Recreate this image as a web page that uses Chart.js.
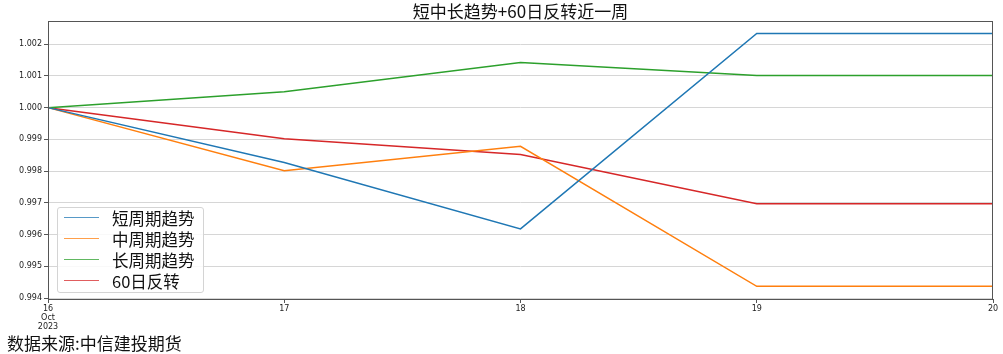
<!DOCTYPE html>
<html>
<head>
<meta charset="utf-8">
<script src="https://cdn.jsdelivr.net/npm/chart.js@4.4.0/dist/chart.umd.min.js"></script>
<style>
  html, body { margin: 0; padding: 0; background: #fff; }
  #wrap { position: relative; width: 1003px; height: 354px; }
  #title {
    position: absolute; left: 48px; width: 945px; top: 0px; height: 22px; line-height: 22px;
    text-align: center; font-family: "Noto Sans CJK SC", sans-serif; font-size: 17px; color: #111;
  }
  #legend {
    position: absolute; left: 57px; top: 207px; width: 145px; height: 84px;
    border: 1px solid #d4d4d4; border-radius: 3px; background: rgba(255,255,255,0.85);
    font-family: "Noto Sans CJK SC", sans-serif; font-size: 16.5px; color: #111;
  }
  .item { position: absolute; left: 0; height: 21px; line-height: 21px; white-space: nowrap; }
  .item span.sw { position: absolute; left: 6px; top: 9px; width: 35px; height: 0; border-top: 1.5px solid; opacity: 0.75; }
  .item span.tx { position: absolute; left: 54px; top: 0; }
  #source {
    position: absolute; left: 7px; top: 330px;
    font-family: "Noto Sans CJK SC", sans-serif; font-size: 17px; color: #111; white-space: nowrap;
  }
</style>
</head>
<body>
<div id="wrap">
  <canvas id="chart" width="1003" height="354"></canvas>
  <div id="title">短中长趋势+60日反转近一周</div>
  <div id="legend"></div>
  <div id="source">数据来源:中信建投期货</div>
</div>
<script>
const days = ['16', '17', '18', '19', '20']
const firstTickLines = ['16', 'Oct', '2023']
const yTicks = [0.994, 0.995, 0.996, 0.997, 0.998, 0.999, 1.000, 1.001, 1.002]

const seriesNames = ['短周期趋势', '中周期趋势', '长周期趋势', '60日反转']
const seriesColors = ['#1f77b4', '#ff7f0e', '#2ca02c', '#d62728']

const shortTrend = [1.0000, 0.99827, 0.99618, 1.002335, 1.002335]
const midTrend = [1.0000, 0.99801, 0.99878, 0.99437, 0.99437]
const longTrend = [1.0000, 1.00050, 1.00142, 1.00101, 1.00101]
const reversal60 = [1.0000, 0.99902, 0.99852, 0.99697, 0.99697]

const allSeries = [shortTrend, midTrend, longTrend, reversal60]

// matplotlib-like frame on all four sides
const framePlugin = {
  id: 'frame',
  afterDatasetsDraw(chart) {
    const { ctx, chartArea } = chart
    ctx.save()
    ctx.strokeStyle = '#555'
    ctx.lineWidth = 1
    ctx.strokeRect(chartArea.left + 0.5, chartArea.top + 0.5,
      chartArea.right - chartArea.left - 1, chartArea.bottom - chartArea.top)
    ctx.restore()
  }
}

const ctx = document.getElementById('chart').getContext('2d')
const chart = new Chart(ctx, {
  type: 'line',
  data: {
    labels: days,
    datasets: allSeries.map((data, i) => ({
      label: seriesNames[i],
      data: data,
      borderColor: seriesColors[i],
      backgroundColor: seriesColors[i],
      borderWidth: 1.5,
      pointRadius: 0,
      tension: 0
    }))
  },
  options: {
    responsive: false,
    animation: false,
    layout: { padding: { left: 0, right: 10, top: 21, bottom: 0 } },
    plugins: {
      legend: { display: false },
      tooltip: { enabled: false },
      title: { display: false }
    },
    scales: {
      x: {
        offset: false,
        grid: { drawOnChartArea: false, drawTicks: true, tickLength: 4, tickColor: '#555' },
        border: { display: false },
        ticks: {
          autoSkip: false,
          maxRotation: 0,
          padding: 1,
          color: '#222',
          font: { family: '"DejaVu Sans", sans-serif', size: 8, lineHeight: 1.15 },
          callback: function(value, index) {
            return index === 0 ? firstTickLines : days[index]
          }
        },
        afterFit(scale) { scale.height = 55 }
      },
      y: {
        min: 0.99397,
        max: 1.00273,
        grid: { color: '#d6d6d6', lineWidth: 1, tickLength: 4, tickColor: '#555' },
        border: { display: false },
        ticks: {
          padding: 2,
          color: '#222',
          font: { family: '"DejaVu Sans", sans-serif', size: 8 },
          callback: function(value) { return value.toFixed(3) }
        },
        afterBuildTicks(scale) { scale.ticks = yTicks.map(v => ({ value: v })) },
        afterFit(scale) { scale.width = 48 }
      }
    }
  },
  plugins: [framePlugin]
})

// legend drawn in the lower-left corner of the plot, like the original
const legendEl = document.getElementById('legend')
seriesNames.forEach((name, i) => {
  const item = document.createElement('div')
  item.className = 'item'
  item.style.top = (0 + i * 21) + 'px'
  item.innerHTML = '<span class="sw" style="border-color:' + seriesColors[i] + '"></span><span class="tx">' + name + '</span>'
  legendEl.appendChild(item)
})
</script>
</body>
</html>
